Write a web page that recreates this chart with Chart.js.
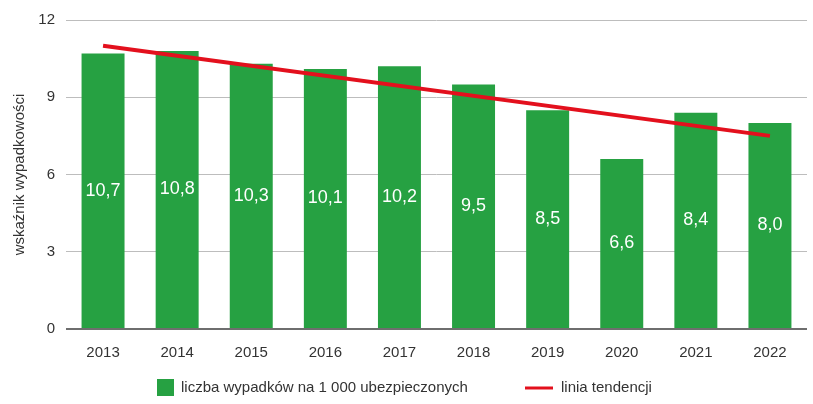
<!DOCTYPE html>
<html>
<head>
<meta charset="utf-8">
<script src="https://cdn.jsdelivr.net/npm/chart.js@4"></script>
<style>
  html, body { margin: 0; padding: 0; background: #fff; }
  #wrap { width: 813px; height: 404px; position: relative; }
</style>
</head>
<body>
<div id="wrap"><canvas id="chart"></canvas></div>
<script>
const FONT = "'Liberation Sans Narrow', 'Arial Narrow', 'Liberation Sans', Arial, sans-serif";

const years = ["2013", "2014", "2015", "2016", "2017", "2018", "2019", "2020", "2021", "2022"];
const accidentRate = [10.7, 10.8, 10.3, 10.1, 10.2, 9.5, 8.5, 6.6, 8.4, 8.0];
// trend line: only the two ends, drawn straight between them
const trendLine = [11.0, null, null, null, null, null, null, null, null, 7.5];
const yTicks = [0, 3, 6, 9, 12];

const barLabel = "liczba wypadków na 1 000 ubezpieczonych";
const trendLabel = "linia tendencji";
const yTitle = "wskaźnik wypadkowości";

const GREEN = "#26a142";
const RED = "#e3101d";

const fmt = (v) => v.toFixed(1).replace(".", ",");

// white values in the middle of each bar
const barValues = {
  id: "barValues",
  afterDatasetsDraw(chart) {
    const ctx = chart.ctx;
    const meta = chart.getDatasetMeta(1);
    ctx.save();
    ctx.fillStyle = "#fff";
    ctx.font = "18px " + FONT;
    ctx.textAlign = "center";
    ctx.textBaseline = "middle";
    meta.data.forEach((bar, i) => {
      ctx.fillText(fmt(accidentRate[i]), bar.x, (bar.y + bar.base) / 2);
    });
    ctx.restore();
  },
};

// legend under the chart
const bottomLegend = {
  id: "bottomLegend",
  afterDraw(chart) {
    const ctx = chart.ctx;
    const y = 387;
    ctx.save();
    ctx.font = "15px " + FONT;
    ctx.textBaseline = "middle";
    ctx.fillStyle = GREEN;
    ctx.fillRect(157, y - 8, 17, 17);
    ctx.fillStyle = "#333";
    ctx.fillText(barLabel, 181, y + 1);
    ctx.strokeStyle = RED;
    ctx.lineWidth = 3;
    ctx.beginPath();
    ctx.moveTo(525, y + 1);
    ctx.lineTo(553, y + 1);
    ctx.stroke();
    ctx.fillText(trendLabel, 561, y + 1);
    ctx.restore();
  },
};

new Chart(document.getElementById("chart"), {
  data: {
    labels: years,
    datasets: [
      {
        type: "line",
        label: trendLabel,
        data: trendLine,
        borderColor: RED,
        borderWidth: 4,
        pointRadius: 0,
        spanGaps: true,
        order: 0,
      },
      {
        type: "bar",
        label: barLabel,
        data: accidentRate,
        backgroundColor: GREEN,
        categoryPercentage: 1,
        barPercentage: 0.58,
        order: 1,
      },
    ],
  },
  options: {
    responsive: true,
    maintainAspectRatio: false,
    animation: false,
    layout: { padding: { top: 8, right: 6, bottom: 39, left: 0 } },
    plugins: {
      legend: { display: false },
      tooltip: { enabled: false },
    },
    scales: {
      x: {
        grid: { display: false },
        border: { display: false },
        ticks: { color: "#333", font: { family: FONT, size: 15 }, padding: 7 },
        afterFit: (s) => { s.height = 36; },
      },
      y: {
        min: 0,
        max: 12,
        afterBuildTicks: (s) => { s.ticks = yTicks.map((v) => ({ value: v })); },
        grid: {
          color: (c) => (c.tick && c.tick.value === 0 ? "#6e6e6e" : "#bdbdbd"),
          lineWidth: (c) => (c.tick && c.tick.value === 0 ? 2 : 1),
          drawTicks: false,
        },
        border: { display: false },
        ticks: { color: "#333", font: { family: FONT, size: 15 }, padding: 11 },
        title: {
          display: true,
          text: yTitle,
          color: "#333",
          font: { family: FONT, size: 15 },
          padding: { top: 11, bottom: 4 },
        },
        afterFit: (s) => { s.width = 66; },
      },
    },
  },
  plugins: [barValues, bottomLegend],
});
</script>
</body>
</html>
